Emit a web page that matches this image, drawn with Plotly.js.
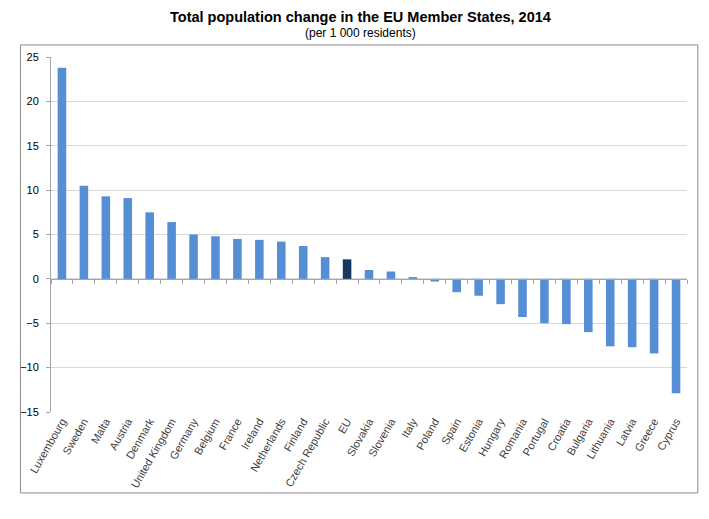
<!DOCTYPE html>
<html lang="en">
<head>
    <meta charset="UTF-8">
    <title>Total population change in the EU Member States, 2014</title>
    <script src="https://cdn.plot.ly/plotly-3.0.1.min.js"></script>
    <style>
        body { margin: 0; background: #fff; }
        #chart { width: 709px; height: 519px; }
    </style>
</head>
<body>
<div id="chart"></div>
<script>
    // Data (per 1 000 residents)
    var countries = ['Luxembourg', 'Sweden', 'Malta', 'Austria', 'Denmark', 'United Kingdom',
        'Germany', 'Belgium', 'France', 'Ireland', 'Netherlands', 'Finland', 'Czech Republic',
        'EU', 'Slovakia', 'Slovenia', 'Italy', 'Poland', 'Spain', 'Estonia', 'Hungary',
        'Romania', 'Portugal', 'Croatia', 'Bulgaria', 'Lithuania', 'Latvia', 'Greece', 'Cyprus'];
    var change = [23.8, 10.5, 9.3, 9.1, 7.5, 6.4, 5.0, 4.8, 4.5, 4.4, 4.2, 3.7, 2.45,
        2.2, 1.0, 0.83, 0.2, -0.3, -1.5, -1.9, -2.85, -4.3, -5.0, -5.1, -6.0, -7.6, -7.7, -8.4, -12.9];
    var yTicks = [-15, -10, -5, 0, 5, 10, 15, 20, 25];

    var barColors = countries.map(c => c === 'EU' ? '#17375e' : '#558ed5');

    var bars = {
        type: 'bar',
        x: countries,
        y: change,
        marker: { color: barColors },
        hoverinfo: 'x+y'
    };

    // helper trace so the zero-line axis with tick marks gets drawn
    var zeroAxis = {
        type: 'scatter',
        mode: 'none',
        x: countries,
        y: change,
        xaxis: 'x2',
        hoverinfo: 'skip',
        showlegend: false
    };

    var layout = {
        width: 709,
        height: 519,
        margin: { l: 51, r: 22, t: 57, b: 107 },
        paper_bgcolor: '#fff',
        plot_bgcolor: '#fff',
        showlegend: false,
        bargap: 0.61,
        font: { family: 'Liberation Sans, Arial, sans-serif', color: '#333' },
        xaxis: {
            type: 'category',
            tickangle: -60,
            tickfont: { size: 11, color: '#404040' },
            showgrid: false,
            showline: false,
            ticks: '',
            zeroline: false,
            fixedrange: true
        },
        xaxis2: {
            type: 'category',
            overlaying: 'x',
            matches: 'x',
            anchor: 'free',
            position: 15 / 40,
            showticklabels: false,
            showgrid: false,
            showline: true,
            linecolor: '#a6a6a6',
            linewidth: 1,
            ticks: 'outside',
            tickson: 'boundaries',
            ticklen: 4,
            tickcolor: '#a6a6a6'
        },
        yaxis: {
            range: [-15, 25],
            tickvals: yTicks,
            tickfont: { size: 11, color: '#000' },
            ticklabelstandoff: 5,
            showgrid: true,
            gridcolor: '#d9d9d9',
            showline: true,
            linecolor: '#a6a6a6',
            ticks: 'outside',
            ticklen: 4,
            tickcolor: '#a6a6a6',
            zeroline: false,
            fixedrange: true
        },
        annotations: [{
            text: '<b>Total population change in the EU Member States, 2014</b>',
            xref: 'paper', yref: 'paper',
            x: 0.486, y: 1.113,
            xanchor: 'center', yanchor: 'middle',
            showarrow: false,
            font: { size: 14.5, color: '#000' }
        }, {
            text: '(per 1 000 residents)',
            xref: 'paper', yref: 'paper',
            x: 0.486, y: 1.068,
            xanchor: 'center', yanchor: 'middle',
            showarrow: false,
            font: { size: 12, color: '#000' }
        }],
        shapes: [{
            type: 'rect',
            xref: 'paper',
            yref: 'paper',
            x0: -0.048, x1: 1.017,
            y0: -0.228, y1: 1.034,
            line: { color: '#8c8c8c', width: 1 },
            fillcolor: 'rgba(0,0,0,0)',
            layer: 'below'
        }]
    };

    Plotly.newPlot('chart', [bars, zeroAxis], layout, { displayModeBar: false, staticPlot: true });
</script>
</body>
</html>
